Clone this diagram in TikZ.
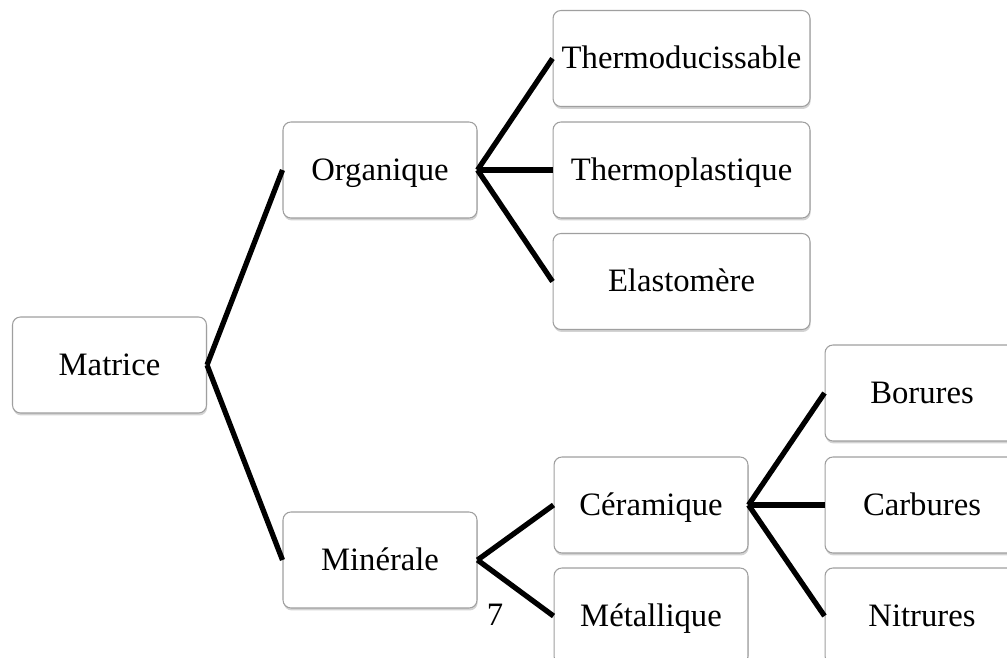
\documentclass[tikz,border=0pt]{standalone}
\usepackage{fontspec}
\setmainfont{Liberation Serif}
\usetikzlibrary{shadows}

\tikzset{
    box/.style={draw=gray!75, line width=0.6pt, fill=white, rounded corners=4.5pt,
        minimum width=3.88cm, minimum height=1.92cm, inner sep=0pt,
        text height=14pt, text depth=2.6pt,
        drop shadow={shadow xshift=0.4pt, shadow yshift=-1.4pt, opacity=0.35, fill=gray},
        font=\fontsize{18.6}{22}\selectfont},
    widebox/.style={box, minimum width=5.14cm},
    link/.style={line width=3pt}
}

\begin{document}
\begin{tikzpicture}[x=0.02cm, y=-0.02cm]
            \useasboundingbox (0,0) rectangle (1007,658);
            \node[box] (matrice) at (109.5,365) {Matrice};
            \node[box] (organique) at (380,170) {Organique};
            \node[box] (minerale) at (380,560) {Minérale};
            \node[widebox] (thermodur) at (681.5,58.5) {Thermoducissable};
            \node[widebox] (thermoplast) at (681.5,170) {Thermoplastique};
            \node[widebox] (elastomere) at (681.5,281.5) {Elastomère};
            \node[box] (ceramique) at (651,505) {Céramique};
            \node[box] (metallique) at (651,616) {Métallique};
            \node[box] (borures) at (922,393) {Borures};
            \node[box] (carbures) at (922,505) {Carbures};
            \node[box] (nitrures) at (922,616) {Nitrures};
            \node[font=\fontsize{18.6}{22}\selectfont] (page) at (495,615) {7};
            \draw[link] (matrice.east) -- (organique.west);
            \draw[link] (matrice.east) -- (minerale.west);
            \draw[link] (organique.east) -- (thermodur.west);
            \draw[link] (organique.east) -- (thermoplast.west);
            \draw[link] (organique.east) -- (elastomere.west);
            \draw[link] (minerale.east) -- (ceramique.west);
            \draw[link] (minerale.east) -- (metallique.west);
            \draw[link] (ceramique.east) -- (borures.west);
            \draw[link] (ceramique.east) -- (carbures.west);
            \draw[link] (ceramique.east) -- (nitrures.west);
        \end{tikzpicture}
\end{document}
